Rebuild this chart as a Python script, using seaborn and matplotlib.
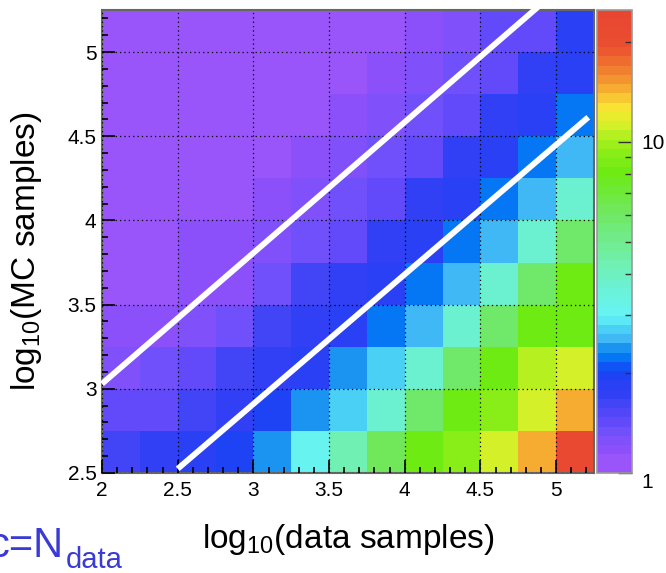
import numpy as np
import pandas as pd
import seaborn as sns
import matplotlib
matplotlib.use("Agg")
import matplotlib.pyplot as plt
from matplotlib.colors import LogNorm, ListedColormap, LinearSegmentedColormap
from matplotlib.ticker import MultipleLocator, FixedLocator, NullFormatter, FixedFormatter

plt.rcParams["font.family"] = ["Liberation Sans", "DejaVu Sans"]
plt.rcParams["mathtext.fontset"] = "custom"
plt.rcParams["mathtext.rm"] = "Liberation Sans"

# ---- data -------------------------------------------------------------
x_centers = [2.125, 2.375, 2.625, 2.875, 3.125, 3.375, 3.625,
             3.875, 4.125, 4.375, 4.625, 4.875, 5.125]
# rows listed from top (y = 5.125) to bottom (y = 2.625)
y_centers = [5.125, 4.875, 4.625, 4.375, 4.125, 3.875,
             3.625, 3.375, 3.125, 2.875, 2.625]
row_5125 = [1.03, 1.03, 1.03, 1.03, 1.03, 1.03, 1.03, 1.03, 1.21, 1.27, 1.38, 1.47, 1.84]
row_4875 = [1.03, 1.03, 1.03, 1.03, 1.03, 1.03, 1.03, 1.21, 1.27, 1.34, 1.47, 1.73, 1.84]
row_4625 = [1.03, 1.03, 1.03, 1.03, 1.03, 1.03, 1.21, 1.27, 1.34, 1.47, 1.73, 1.84, 2.20]
row_4375 = [1.03, 1.03, 1.03, 1.03, 1.03, 1.21, 1.27, 1.34, 1.47, 1.73, 1.84, 2.20, 2.54]
row_4125 = [1.03, 1.03, 1.03, 1.03, 1.21, 1.27, 1.34, 1.47, 1.73, 1.84, 2.20, 2.54, 3.86]
row_3875 = [1.03, 1.03, 1.14, 1.21, 1.27, 1.34, 1.47, 1.73, 1.84, 2.20, 2.54, 3.86, 5.87]
row_3625 = [1.03, 1.03, 1.21, 1.21, 1.34, 1.57, 1.73, 1.84, 2.20, 2.54, 3.86, 5.87, 8.10]
row_3375 = [1.14, 1.21, 1.27, 1.34, 1.57, 1.73, 1.90, 2.20, 2.54, 3.86, 5.87, 8.10, 8.10]
row_3125 = [1.27, 1.34, 1.38, 1.62, 1.73, 1.90, 2.35, 2.71, 3.86, 5.87, 8.10, 10.2, 11.5]
row_2875 = [1.38, 1.47, 1.57, 1.73, 2.03, 2.35, 2.71, 3.86, 5.87, 8.10, 9.50, 11.5, 14.9]
row_2625 = [1.62, 1.73, 1.84, 2.03, 2.35, 2.99, 4.26, 6.27, 8.10, 9.50, 11.5, 14.9, 22.0]
rows = [row_5125, row_4875, row_4625, row_4375, row_4125, row_3875,
        row_3625, row_3375, row_3125, row_2875, row_2625]

z_min, z_max = 1.0, 25.0
colorbar_ticks = [1, 10]
colorbar_labels = ["1", "10"]

# hand-drawn white guide lines (endpoints in data units)
line1_x = [2.0, 4.895]
line1_y = [3.03, 5.28]
line2_x = [2.5, 5.212]
line2_y = [2.525, 4.613]

# ---- long-form table ----------------------------------------------------
recs = []
for yc, row in zip(y_centers, rows):
    for xc, v in zip(x_centers, row):
        recs.append((xc, yc, v))
df = pd.DataFrame(recs, columns=["x", "y", "w"])

# ---- ROOT-like rainbow palette (50 discrete levels) -------------------------
anchors = [
    (0.00, "#9a55fa"), (0.03, "#9955fa"), (0.04, "#9050fa"), (0.06, "#8450fa"),
    (0.075, "#7a50fa"), (0.09, "#7050fa"), (0.10, "#6a4cfa"), (0.12, "#5a48fa"),
    (0.14, "#4a45f5"), (0.15, "#4045f5"), (0.17, "#3040f5"), (0.19, "#2840f5"),
    (0.20, "#2040f5"), (0.22, "#1848f5"), (0.245, "#0070f5"), (0.265, "#1088f0"),
    (0.29, "#40b8f5"), (0.31, "#4ad0f5"), (0.34, "#66f5f5"), (0.42, "#6cf0c8"),
    (0.45, "#70f0b4"), (0.55, "#70e868"), (0.57, "#70e858"), (0.65, "#6eeb14"),
    (0.70, "#90ee18"), (0.72, "#aaf01e"), (0.76, "#dcf02a"), (0.79, "#f8e632"),
    (0.84, "#f5a030"), (0.88, "#f07530"), (0.92, "#ea5030"), (1.00, "#e84530"),
]
smooth = LinearSegmentedColormap.from_list("rootish", anchors)
cmap = ListedColormap([smooth((i + 0.5) / 50) for i in range(50)])

# ---- figure ------------------------------------------------------------------
W, H = 666, 573
fig = plt.figure(figsize=(W / 100, H / 100), dpi=100)
ax = fig.add_axes([102 / W, 100 / H, 492 / W, 463 / H])

sns.histplot(data=df, x="x", y="y", weights="w",
             binwidth=0.25, binrange=((2.0, 5.25), (2.5, 5.25)),
             cmap=cmap, ax=ax, cbar=False)
mesh = ax.collections[0]
mesh.set_norm(LogNorm(vmin=z_min, vmax=z_max))
mesh.set_cmap(cmap)

ax.set_xlim(2.0, 5.25)
ax.set_ylim(2.5, 5.25)

ax.xaxis.set_major_locator(MultipleLocator(0.5))
ax.xaxis.set_minor_locator(MultipleLocator(0.1))
ax.yaxis.set_major_locator(MultipleLocator(0.5))
ax.yaxis.set_minor_locator(MultipleLocator(0.1))
ax.xaxis.set_major_formatter(plt.FuncFormatter(lambda v, p: f"{v:g}"))
ax.yaxis.set_major_formatter(plt.FuncFormatter(lambda v, p: f"{v:g}"))
ax.tick_params(which="both", direction="in", top=False, right=False,
               colors="black", labelsize=15, width=1.2)
ax.tick_params(which="major", length=9.5)
ax.tick_params(which="minor", length=4.5)
ax.tick_params(axis="x", pad=6)
ax.tick_params(axis="y", pad=4)

ax.set_axisbelow(False)
ax.grid(True, which="major", color="black", linestyle=(0, (1, 2.5)), linewidth=0.9)
for s in ax.spines.values():
    s.set_color("#666666")
    s.set_linewidth(1.5)

ax.plot(line1_x, line1_y, color="white", lw=4.2, solid_capstyle="butt",
        clip_on=False, zorder=5)
ax.plot(line2_x, line2_y, color="white", lw=4.2, solid_capstyle="butt",
        clip_on=False, zorder=5)

ax.set_xlabel(r"log$_\mathregular{10}$(data samples)", fontsize=24)
ax.set_ylabel(r"log$_\mathregular{10}$(MC samples)", fontsize=24)
ax.xaxis.set_label_coords(0.5, -0.105)
ax.yaxis.set_label_coords(-0.118, 0.48)

# ---- colour bar -----------------------------------------------------------------
cax = fig.add_axes([597 / W, 100 / H, 35 / W, 463 / H])
cb = fig.colorbar(mesh, cax=cax)
cb.outline.set_edgecolor("#999999")
cb.outline.set_linewidth(1.2)
cax.yaxis.set_major_locator(FixedLocator(colorbar_ticks))
cax.yaxis.set_major_formatter(FixedFormatter(colorbar_labels))
cax.yaxis.set_minor_locator(FixedLocator([2, 3, 4, 5, 6, 7, 8, 9, 20]))
cax.yaxis.set_minor_formatter(NullFormatter())
cax.tick_params(which="both", direction="in", right=True, left=False,
                labelright=True, labelleft=False, labelsize=15,
                color="#333333", width=1.0, pad=7)
cax.tick_params(which="major", length=10)
cax.tick_params(which="minor", length=5)
cax.yaxis.get_major_ticks()[0].label2.set_va("top")

# ---- slide fragment text -----------------------------------------------------------
fig.text(-12 / W, 16 / H, "c=N", fontsize=30, color="#3a3ad6",
         fontweight="normal", va="baseline")
fig.text(66 / W, 5 / H, "data", fontsize=21, color="#3a3ad6",
         fontweight="normal", va="baseline")

fig.savefig("out.png", dpi=100)
